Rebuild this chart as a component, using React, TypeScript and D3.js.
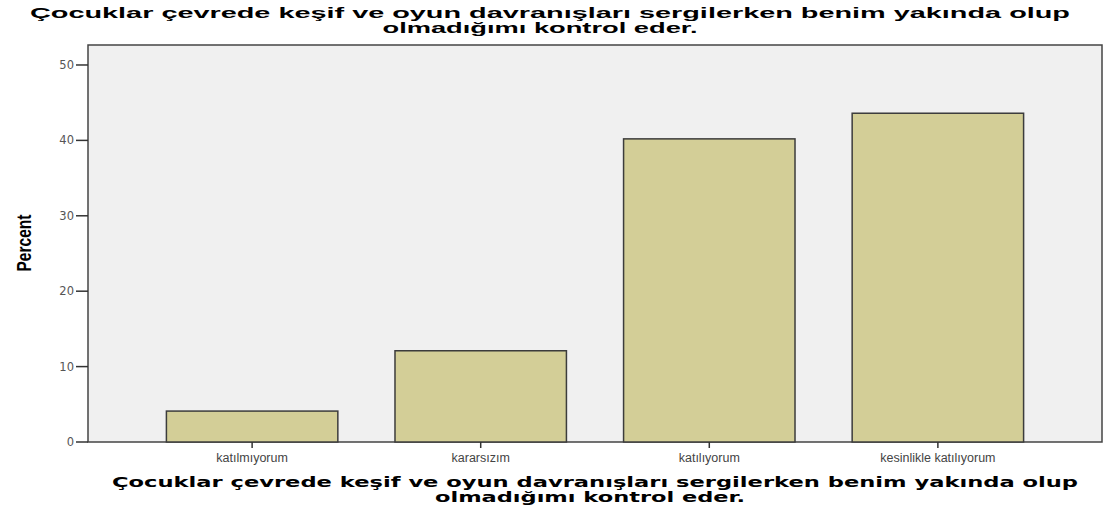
import React from "react";
import * as d3 from "d3";

const categories = ["katılmıyorum", "kararsızım", "katılıyorum", "kesinlikle katılıyorum"];
const percents = [4.1, 12.1, 40.2, 43.6];
const yTicks = [0, 10, 20, 30, 40, 50];
const titleLines = [
  "Çocuklar çevrede keşif ve oyun davranışları sergilerken benim yakında olup",
  "olmadığımı kontrol eder.",
];

export default function App() {
  const W = 1109, H = 510;
  const left = 88, right = 1102, top = 45, bottom = 442;
  const x = d3.scaleBand<string>().domain(categories).range([left, right]).paddingInner(0.25).paddingOuter(0.343);
  const y = d3.scaleLinear().domain([0, 52.65]).range([bottom, top]);
  return (
    <svg width={W} height={H} style={{ position: "absolute", left: 0, top: 0 }}>
      <rect x={0} y={0} width={W} height={H} fill="#fff" />
      <g fontFamily="'Liberation Sans', Arial, sans-serif" fontWeight="bold" fontSize={15.5} fill="#000" textAnchor="middle">
        <text x={550} y={18} textLength={1040} lengthAdjust="spacingAndGlyphs">{titleLines[0]}</text>
        <text x={540} y={33} textLength={315} lengthAdjust="spacingAndGlyphs">{titleLines[1]}</text>
      </g>
      <rect x={left} y={top} width={right - left} height={bottom - top} fill="#f0f0f0" stroke="#444" strokeWidth={1.5} />
      {categories.map((c, i) => (
        <rect key={c} x={x(c)} y={y(percents[i])} width={x.bandwidth()} height={bottom - y(percents[i])}
          fill="#d3ce97" stroke="#3c3c3c" strokeWidth={1.5} />
      ))}
      {yTicks.map((t) => (
        <g key={t}>
          <line x1={left - 12} x2={left} y1={y(t)} y2={y(t)} stroke="#333" strokeWidth={1.5} />
          <text x={left - 14} y={y(t) + 4} textAnchor="end" fontFamily="'DejaVu Sans', Verdana, sans-serif" fontSize={11.5} fill="#555">{t}</text>
        </g>
      ))}
      {categories.map((c) => (
        <g key={c}>
          <line x1={x(c)! + x.bandwidth() / 2} x2={x(c)! + x.bandwidth() / 2} y1={bottom} y2={bottom + 6} stroke="#333" strokeWidth={1.5} />
          <text x={x(c)! + x.bandwidth() / 2} y={bottom + 20} textAnchor="middle" fontFamily="'Liberation Sans', Arial, sans-serif" fontSize={12.5} fill="#444">{c}</text>
        </g>
      ))}
      <text transform="translate(31,243) rotate(-90)" textAnchor="middle" fontFamily="'Liberation Sans Narrow', 'Liberation Sans', sans-serif" fontWeight="bold" fontSize={21} textLength={57} lengthAdjust="spacingAndGlyphs" fill="#000">Percent</text>
      <g fontFamily="'DejaVu Sans', Verdana, sans-serif" fontWeight="bold" fontSize={13.5} fill="#000" textAnchor="middle">
        <text x={595} y={487} textLength={966} lengthAdjust="spacingAndGlyphs">{titleLines[0]}</text>
        <text x={590} y={502} textLength={310} lengthAdjust="spacingAndGlyphs">{titleLines[1]}</text>
      </g>
    </svg>
  );
}
